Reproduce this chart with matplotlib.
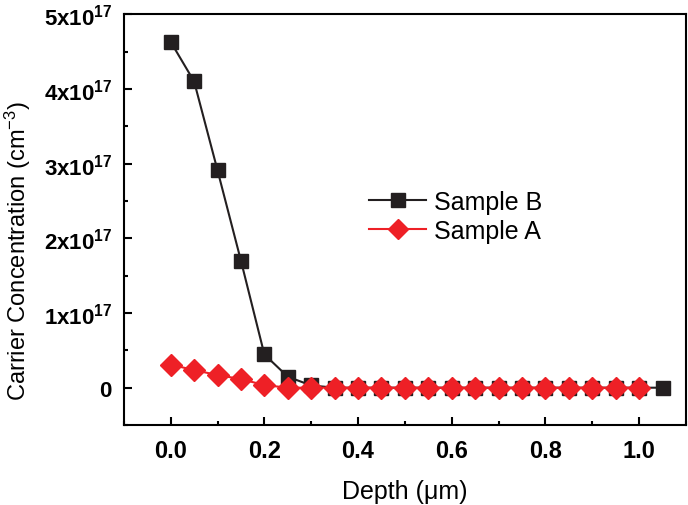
import numpy as np
import matplotlib
matplotlib.use('Agg')
import matplotlib.pyplot as plt
from matplotlib.ticker import MultipleLocator, FuncFormatter

plt.rcParams['font.family'] = ['Liberation Sans', 'DejaVu Sans']
plt.rcParams['mathtext.fontset'] = 'custom'
plt.rcParams['mathtext.rm'] = 'Liberation Sans'
plt.rcParams['mathtext.bf'] = 'Liberation Sans:bold'
plt.rcParams['mathtext.it'] = 'Liberation Sans:italic'

# depth (um)
depth_b = [0.0, 0.05, 0.1, 0.15, 0.2, 0.25, 0.3, 0.35, 0.4, 0.45, 0.5,
           0.55, 0.6, 0.65, 0.7, 0.75, 0.8, 0.85, 0.9, 0.95, 1.0, 1.05]
depth_a = [0.0, 0.05, 0.1, 0.15, 0.2, 0.25, 0.3, 0.35, 0.4, 0.45, 0.5,
           0.55, 0.6, 0.65, 0.7, 0.75, 0.8, 0.85, 0.9, 0.95, 1.0]

# carrier concentration (cm^-3)
conc_b = [4.63e17, 4.10e17, 2.91e17, 1.70e17, 0.445e17, 0.147e17, 0.03e17,
          0.0, 0.0, 0.0, 0.0, 0.0, 0.0, 0.0, 0.0, 0.0, 0.0, 0.0, 0.0, 0.0,
          0.0, 0.0]
conc_a = [0.31e17, 0.235e17, 0.17e17, 0.115e17, 0.035e17, 0.0, 0.0, 0.0,
          0.0, 0.0, 0.0, 0.0, 0.0, 0.0, 0.0, 0.0, 0.0, 0.0, 0.0, 0.0, 0.0]

fig = plt.figure(figsize=(6.88, 5.06), dpi=100)
ax = fig.add_axes([0.180, 0.158, 0.817, 0.812])

ax.plot(depth_b, conc_b, color='#231f20', marker='s', markersize=10.5,
        linewidth=1.5, label='Sample B')
ax.plot(depth_a, conc_a, color='#ee2026', marker='D', markersize=11,
        linewidth=1.5, label='Sample A')

ax.set_xlim(-0.1, 1.1)
ax.set_ylim(-0.5e17, 5e17)

ax.xaxis.set_major_locator(MultipleLocator(0.2))
ax.xaxis.set_minor_locator(MultipleLocator(0.1))
ax.yaxis.set_major_locator(MultipleLocator(1e17))
ax.yaxis.set_minor_locator(MultipleLocator(0.5e17))


def yfmt(v, pos):
    n = int(round(v / 1e17))
    if n == 0:
        return r'$\mathbf{0}$'
    return r'$\mathbf{%dx10^{17}}$' % n


ax.yaxis.set_major_formatter(FuncFormatter(yfmt))
ax.xaxis.set_major_formatter(FuncFormatter(lambda v, p: '%.1f' % v))

ax.tick_params(which='both', direction='in', top=False, right=False,
               width=1.5)
ax.tick_params(which='major', length=6)
ax.tick_params(which='minor', length=3)
ax.tick_params(axis='x', labelsize=17, pad=10)
ax.tick_params(axis='y', labelsize=16, pad=8)
for lab in ax.get_xticklabels():
    lab.set_fontweight('bold')

for s in ax.spines.values():
    s.set_linewidth(1.5)

ax.set_xlabel('Depth (μm)', fontsize=18, labelpad=12)
ax.set_ylabel(r'Carrier Concentration (cm$^{-3}$)', fontsize=17)
ax.yaxis.set_label_coords(-0.162, 0.426)

ax.legend(loc='center left', bbox_to_anchor=(0.436, 0.507), frameon=False,
          fontsize=18, handlelength=2.3, handletextpad=0.32,
          labelspacing=0.2, borderpad=0, borderaxespad=0, markerscale=0.9)

fig.savefig('out.png', dpi=100)
